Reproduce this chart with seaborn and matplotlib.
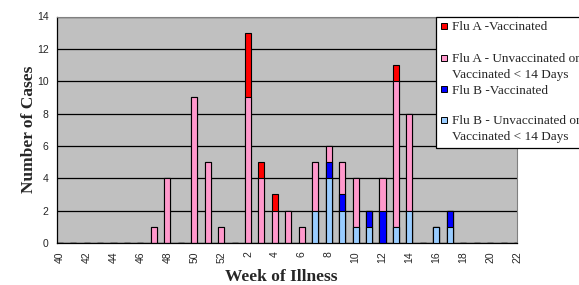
import matplotlib
matplotlib.use("Agg")
import matplotlib.pyplot as plt
import seaborn as sns
import numpy as np
import pandas as pd
from matplotlib.patches import Rectangle

# ---- data ----
weeks = [str(w) for w in range(40, 53)] + [str(w) for w in range(1, 23)]
flu_a_vacc   = [0]*13 + [0, 4, 1, 1, 0, 0, 0, 0, 0, 0, 0, 0, 1, 0, 0, 0, 0, 0, 0, 0, 0, 0]
flu_a_unvacc = [0, 0, 0, 0, 0, 0, 0, 1, 4, 0, 9, 5, 1] + \
               [0, 9, 4, 2, 2, 1, 3, 1, 2, 3, 0, 2, 9, 6, 0, 0, 0, 0, 0, 0, 0, 0]
flu_b_vacc   = [0]*13 + [0, 0, 0, 0, 0, 0, 0, 1, 1, 0, 1, 2, 0, 0, 0, 0, 1, 0, 0, 0, 0, 0]
flu_b_unvacc = [0]*13 + [0, 0, 0, 0, 0, 0, 2, 4, 2, 1, 1, 0, 1, 2, 0, 1, 1, 0, 0, 0, 0, 0]
series_labels = ["Flu A -Vaccinated",
                 "Flu A - Unvaccinated or\nVaccinated < 14 Days",
                 "Flu B -Vaccinated",
                 "Flu B - Unvaccinated or\nVaccinated < 14 Days"]
colors = ["#FF0000", "#FF99CC", "#0000FF", "#99CCFF"]
yticks = list(range(0, 15, 2))

df = pd.DataFrame({"week": weeks, "a_v": flu_a_vacc, "a_u": flu_a_unvacc,
                   "b_v": flu_b_vacc, "b_u": flu_b_unvacc})
# cumulative tops, drawn from the tallest layer to the lowest
df["t4"] = df["b_u"]
df["t3"] = df["t4"] + df["b_v"]
df["t2"] = df["t3"] + df["a_u"]
df["t1"] = df["t2"] + df["a_v"]

sns.set_style("white")
fig = plt.figure(figsize=(5.79, 2.85), dpi=100)
ax = fig.add_axes([57/579, 1-243/285, 460/579, (243-16.5)/285])
ax.set_facecolor("#C0C0C0")

for col, c in zip(["t1", "t2", "t3", "t4"], colors):
    sns.barplot(data=df, x="week", y=col, order=weeks, color=c, width=0.45,
                edgecolor="black", linewidth=0.8, saturation=1, ax=ax, zorder=3)

ax.set_ylim(0, 14)
ax.set_xlim(-0.2, 34.0)
ax.set_yticks(yticks)
ax.set_yticklabels([str(v) for v in yticks], fontsize=7.5, family="Liberation Sans")
ax.set_xticks(range(len(weeks)))
ax.set_xticklabels([w if i % 2 == 0 else "" for i, w in enumerate(weeks)],
                   rotation=90, fontsize=7.5, family="Liberation Sans")
ax.tick_params(axis="both", direction="out", length=4, width=0.8, color="black", pad=2)
ax.yaxis.grid(True, color="black", linewidth=0.9, zorder=1)
ax.set_axisbelow(True)
for s in ["left", "bottom"]:
    ax.spines[s].set_color("black")
    ax.spines[s].set_linewidth(0.9)
for s in ["top", "right"]:
    ax.spines[s].set_color("#808080")
    ax.spines[s].set_linewidth(0.8)

ax.set_xlabel("Week of Illness", fontsize=12.5, fontweight="bold",
              family="Liberation Serif", labelpad=4.5)
ax.xaxis.label.set_x((281 - 57) / 460)
ax.set_ylabel("Number of Cases", fontsize=12.5, fontweight="bold",
              family="Liberation Serif", labelpad=0)

# legend box (extends past the right edge as in the reference)
W, H = 579, 285
box = Rectangle((435.5/W, 1-148/H), 160/W, (148-17)/H, transform=fig.transFigure,
                facecolor="white", edgecolor="black", linewidth=0.9, clip_on=False, zorder=10)
fig.patches.append(box)
entry_y = [26, 58, 89, 120]
for lab, c, y in zip(series_labels, colors, entry_y):
    sq = Rectangle((441/W, 1-(y+3)/H), 6/W, 6/H, transform=fig.transFigure,
                   facecolor=c, edgecolor="black", linewidth=0.7, zorder=11)
    fig.patches.append(sq)
    fig.text(452/W, 1-(y-4.5)/H, lab, fontsize=9.5, family="Liberation Serif",
             va="top", ha="left", linespacing=1.35, zorder=12)

fig.savefig("out.png", dpi=100)
